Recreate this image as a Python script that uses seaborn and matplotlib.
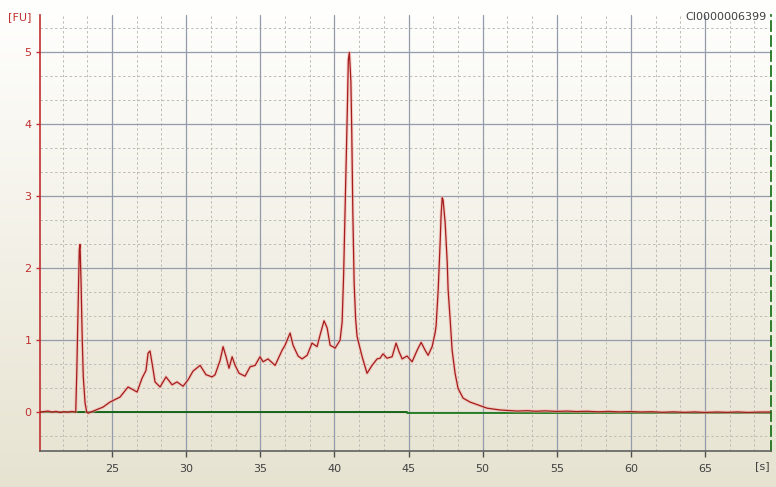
import numpy as np
import pandas as pd
import matplotlib
matplotlib.use("Agg")
import matplotlib.pyplot as plt
import seaborn as sns

# ---- data ----
time_s = [20.14, 20.48, 20.68, 20.95, 21.22, 21.49, 21.76, 22.03, 22.30, 22.55,
          22.62, 22.72, 22.79, 22.84, 22.91, 22.99, 23.06, 23.18, 23.29, 23.38,
          23.74, 24.39, 24.86, 25.54, 26.08, 26.69, 27.02, 27.29, 27.43, 27.56,
          27.70, 27.90, 28.24, 28.64, 29.05, 29.38, 29.79, 30.13, 30.46, 30.94,
          31.34, 31.75, 31.95, 32.29, 32.49, 32.69, 32.89, 33.10, 33.30, 33.57,
          33.97, 34.31, 34.65, 34.98, 35.19, 35.52, 36.00, 36.47, 36.67, 37.01,
          37.21, 37.55, 37.82, 38.16, 38.49, 38.83, 39.03, 39.30, 39.51, 39.71,
          40.05, 40.38, 40.52, 40.62, 40.72, 40.86, 40.94, 41.01, 41.11, 41.17,
          41.24, 41.33, 41.43, 41.53, 41.87, 42.20, 42.54, 42.88, 43.08, 43.28,
          43.55, 43.89, 44.16, 44.36, 44.57, 44.90, 45.24, 45.58, 45.85, 46.12,
          46.32, 46.59, 46.79, 46.86, 47.00, 47.13, 47.20, 47.27, 47.33, 47.47,
          47.61, 47.67, 47.81, 47.94, 48.14, 48.34, 48.68, 49.15, 49.69, 50.30,
          51.18, 52.33, 53.0, 53.6, 54.2, 55.0, 55.7, 56.3, 57.0, 57.8,
          58.5, 59.2, 60.0, 60.7, 61.4, 62.1, 62.9, 63.6, 64.3, 65.0,
          65.8, 66.5, 67.2, 67.9, 68.6, 69.4]
fu = [0.00, 0.01, 0.015, 0.00, 0.01, -0.005, 0.005, 0.00, 0.01, 0.00,
      0.54, 1.56, 2.26, 2.33, 1.80, 1.00, 0.49, 0.13, 0.00, -0.015,
      0.015, 0.07, 0.14, 0.21, 0.35, 0.28, 0.47, 0.58, 0.82, 0.85,
      0.68, 0.42, 0.35, 0.49, 0.38, 0.42, 0.36, 0.45, 0.57, 0.65,
      0.52, 0.49, 0.52, 0.72, 0.91, 0.77, 0.61, 0.77, 0.65, 0.54,
      0.50, 0.63, 0.65, 0.77, 0.70, 0.74, 0.65, 0.86, 0.93, 1.10,
      0.93, 0.78, 0.74, 0.79, 0.96, 0.91, 1.07, 1.27, 1.17, 0.93,
      0.89, 1.00, 1.25, 1.90, 2.80, 4.10, 4.90, 5.00, 4.60, 3.90,
      2.80, 1.80, 1.30, 1.05, 0.77, 0.54, 0.65, 0.74, 0.75, 0.81,
      0.75, 0.77, 0.96, 0.84, 0.74, 0.78, 0.70, 0.86, 0.97, 0.86,
      0.79, 0.91, 1.10, 1.20, 1.70, 2.35, 2.75, 2.98, 2.95, 2.63,
      2.08, 1.70, 1.28, 0.86, 0.54, 0.33, 0.195, 0.14, 0.10, 0.055,
      0.03, 0.015, 0.02, 0.012, 0.018, 0.01, 0.015, 0.008, 0.012, 0.005,
      0.010, 0.004, 0.008, 0.002, 0.006, -0.002, 0.004, -0.003, 0.003, -0.004,
      0.002, -0.003, 0.003, -0.004, 0.001, 0.002]

x_ticks = [25, 30, 35, 40, 45, 50, 55, 60, 65]
y_ticks = [0, 1, 2, 3, 4, 5]
sample_id = "CI0000006399"

df = pd.DataFrame({"time": time_s, "fu": fu})

sns.set_theme(style="white")
plt.rcParams['font.family'] = ['DejaVu Sans']

W, H = 776, 487
fig = plt.figure(figsize=(W / 100, H / 100), dpi=100)

# background gradient over the whole figure
bg = fig.add_axes([0, 0, 1, 1], zorder=-10)
grad = np.linspace(0, 1, 256).reshape(-1, 1)
top_c = np.array([1.0, 1.0, 0.995])
bot_c = np.array([0.905, 0.89, 0.82])
img = top_c[None, None, :] * (1 - grad[:, :, None]) + bot_c[None, None, :] * grad[:, :, None]
bg.imshow(img, aspect="auto", extent=[0, 1, 0, 1], origin="upper")
bg.set_axis_off()

ax = fig.add_axes([40 / W, 1 - 451 / H, 731 / W, 436 / H])
ax.set_facecolor("none")
ax.set_xlim(20.14, 69.45)
ax.set_ylim(-0.54, 5.52)

# grid
minor_x = [v for v in np.arange(20.0 + 5 / 3, 70, 5 / 3)]
minor_y = [v for v in np.arange(-1 / 3, 5.6, 1 / 3)]
for v in minor_x:
    ax.axvline(v, color="#bdbdb5", lw=0.7, ls=(0, (2.5, 2.5)), zorder=0)
for v in minor_y:
    ax.axhline(v, color="#bdbdb5", lw=0.7, ls=(0, (2.5, 2.5)), zorder=0)
for v in x_ticks:
    ax.axvline(v, color="#949bab", lw=0.9, zorder=0.5)
for v in y_ticks:
    ax.axhline(v, color="#949bab", lw=0.9, zorder=0.5)

# baseline
ax.plot([20.14, 44.9], [0, 0], color="#0d5f0d", lw=1.3, zorder=1)
ax.plot([44.9, 69.45], [-0.006, -0.006], color="#1f7a1f", lw=1.3, zorder=1)

# trace with soft halo
sns.lineplot(data=df, x="time", y="fu", ax=ax, color="#f2b0a8", lw=2.4,
             alpha=0.55, zorder=2, legend=False)
sns.lineplot(data=df, x="time", y="fu", ax=ax, color="#a51c1c", lw=0.9,
             zorder=3, legend=False)

ax.set_xlabel("")
ax.set_ylabel("")
ax.set_xticks(x_ticks)
ax.set_yticks(y_ticks)
ax.set_xticklabels([str(v) for v in x_ticks])
ax.set_yticklabels([str(v) for v in y_ticks])
ax.tick_params(axis="x", direction="out", length=4, width=1, color="#505050",
               labelcolor="#404040", labelsize=8, pad=5, bottom=True)
ax.tick_params(axis="y", direction="out", length=3, width=1, color="#c03030",
               labelcolor="#c03030", labelsize=8, pad=3, left=True)

ax.spines["top"].set_visible(False)
ax.spines["left"].set_color("#c03030")
ax.spines["left"].set_linewidth(1.2)
ax.spines["bottom"].set_color("#606060")
ax.spines["bottom"].set_linewidth(1.2)
ax.spines["right"].set_color("#0d6a0d")
ax.spines["right"].set_linewidth(1.2)
ax.spines["right"].set_linestyle((0, (6, 3)))

fig.text(8 / W, 1 - 17 / H, "[FU]", color="#c03030", fontsize=8,
         ha="left", va="center")
fig.text(770 / W, 1 - 466 / H, "[s]", color="#404040", fontsize=8,
         ha="right", va="center")
fig.text(767 / W, 1 - 17 / H, sample_id, color="#404040", fontsize=8,
         ha="right", va="center")

fig.savefig("out.png", dpi=100)
